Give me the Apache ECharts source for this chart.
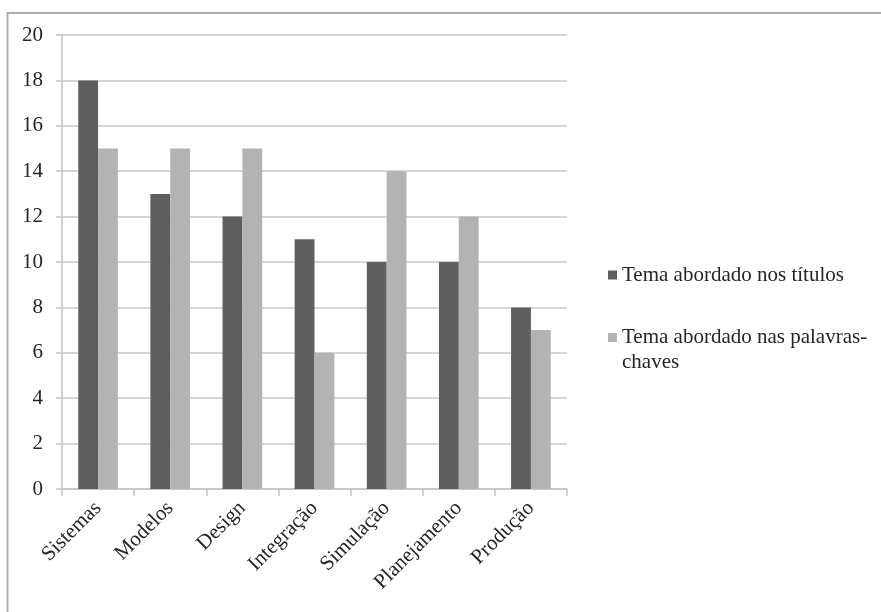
<!DOCTYPE html>
<html>
<head>
<meta charset="utf-8">
<script src="https://cdn.jsdelivr.net/npm/echarts@6/dist/echarts.min.js"></script>
<style>
  html, body { margin: 0; padding: 0; background: #fff; }
  #chart { width: 881px; height: 612px; }
</style>
</head>
<body>
<div id="chart"></div>
<script>
// Themes and counts per theme
const categories = ['Sistemas', 'Modelos', 'Design', 'Integração', 'Simulação', 'Planejamento', 'Produção'];
const seriesNames = ['Tema abordado nos títulos', 'Tema abordado nas palavras-chaves'];
const titulos = [18, 13, 12, 11, 10, 10, 8];
const palavrasChave = [15, 15, 15, 6, 14, 12, 7];
const yTicks = { min: 0, max: 20, interval: 2 };

const serif = '"Liberation Serif", "DejaVu Serif", serif';
const textColor = '#262626';

// Legend icons: a small square inside a tall invisible box, so the square can sit
// level with the first text line (the box's corner points only set its bounds).
const iconCentered = 'path://M0,20.5L9,20.5L9,29.5L0,29.5Z M0,0L0,0 M9,50L9,50';
const iconFirstLine = 'path://M0,8L9,8L9,17L0,17Z M0,0L0,0 M9,50L9,50';

const chart = echarts.init(document.getElementById('chart'), null, { renderer: 'canvas' });

chart.setOption({
  backgroundColor: '#ffffff',
  animation: false,
  textStyle: { fontFamily: serif },
  grid: { left: 62, right: 314, top: 35, bottom: 123, containLabel: false },
  legend: {
    orient: 'vertical',
    left: 603,
    top: 245,
    itemWidth: 9,
    itemHeight: 50,
    itemGap: 25,
    formatter: function (name) {
      return name === seriesNames[1] ? 'Tema abordado nas palavras-\nchaves' : name;
    },
    textStyle: { fontFamily: serif, fontSize: 21, color: textColor, lineHeight: 25 },
    data: [
      { name: seriesNames[0], icon: iconCentered },
      { name: seriesNames[1], icon: iconFirstLine }
    ]
  },
  xAxis: {
    type: 'category',
    data: categories,
    axisLine: { show: true, lineStyle: { color: '#c4c4c4', width: 1.5 } },
    axisTick: { show: true, alignWithLabel: false, length: 7, lineStyle: { color: '#c4c4c4', width: 1.5 } },
    axisLabel: { rotate: 45, margin: 16, fontFamily: serif, fontSize: 21, color: textColor },
    splitLine: { show: false }
  },
  yAxis: {
    type: 'value',
    min: yTicks.min,
    max: yTicks.max,
    interval: yTicks.interval,
    axisLine: { show: true, lineStyle: { color: '#c4c4c4', width: 1.5 } },
    axisTick: { show: true, length: 6, lineStyle: { color: '#c4c4c4', width: 1.5 } },
    axisLabel: { margin: 19, fontFamily: serif, fontSize: 21, color: textColor },
    splitLine: { show: true, lineStyle: { color: '#d6d6d6', width: 1.8 } }
  },
  series: [
    {
      name: seriesNames[0],
      type: 'bar',
      data: titulos,
      barGap: '0%',
      barCategoryGap: '45%',
      itemStyle: { color: '#5f5f5f' }
    },
    {
      name: seriesNames[1],
      type: 'bar',
      data: palavrasChave,
      barGap: '0%',
      barCategoryGap: '45%',
      itemStyle: { color: '#b3b3b3' }
    }
  ],
  graphic: [
    {
      type: 'polyline',
      silent: true,
      shape: { points: [[7.5, 612], [7.5, 13], [881, 13]] },
      style: { stroke: '#adadad', lineWidth: 2, fill: null }
    }
  ]
});
</script>
</body>
</html>
